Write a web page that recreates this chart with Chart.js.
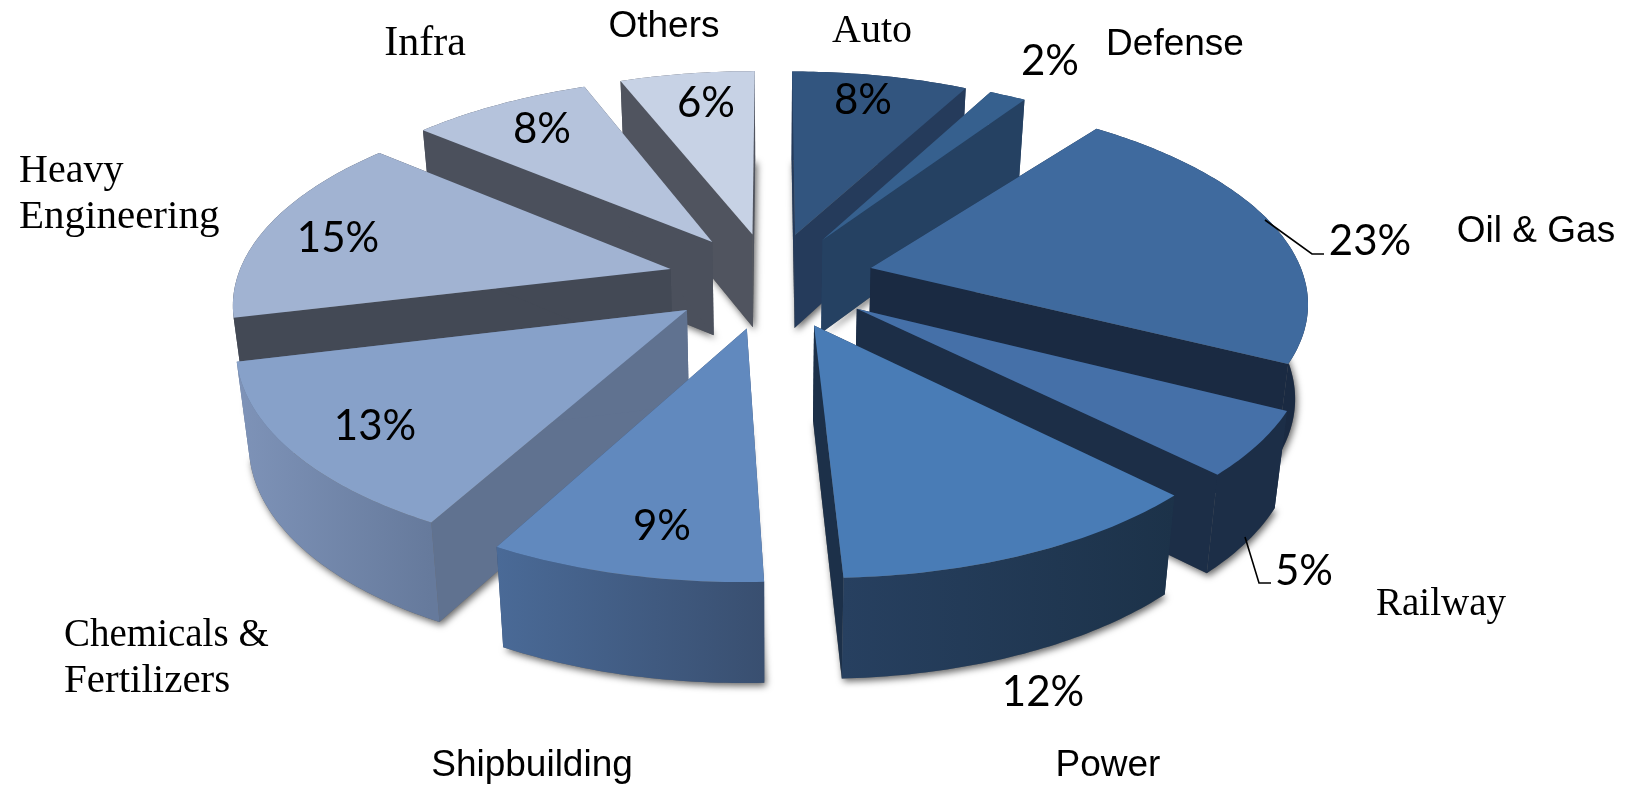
<!DOCTYPE html>
<html>
<head>
<meta charset="utf-8">
<title>Sector share</title>
<script src="https://cdn.jsdelivr.net/npm/chart.js@4"></script>
<style>
    html, body { margin: 0; padding: 0; background: #fff; }
    canvas { display: block; }
</style>
</head>
<body>
<canvas id="sectorChart" width="1627" height="793"></canvas>
<script>
    // ============================================
    // DATA
    // ============================================
    const categories = ['Auto', 'Defense', 'Oil & Gas', 'Railway', 'Power', 'Shipbuilding',
        'Chemicals & Fertilizers', 'Heavy Engineering', 'Infra', 'Others'];
    // the printed labels are these rounded
    const shares = [7.7, 1.6, 23.2, 5.0, 11.8, 8.5, 13.3, 15.0, 7.9, 5.9];

    // ============================================
    // COLOURS
    // ============================================
    const topColors = ['#32557F', '#36608E', '#3F6A9E', '#4570A8', '#497CB6',
        '#6189BE', '#87A1C9', '#A1B3D2', '#B5C3DC', '#C7D2E5'];
    const wallColors = ['#253B5B', '#254162', '#1A2A42', '#1C2E47', '#1C3049',
        '#3A5072', '#607290', '#434955', '#4B505C', '#50545F'];
    const rimLeft = ['#253B5B', '#254162', '#1A2A42', '#1C2E47', '#274060',
        '#4A6A97', '#7E93B8', '#434955', '#4B505C', '#50545F'];
    const rimRight = ['#253B5B', '#254162', '#1A2A42', '#1C2E47', '#1C3249',
        '#394F70', '#667A9C', '#434955', '#4B505C', '#50545F'];

    // ============================================
    // 3D LOOK (camera and explode distance)
    // ============================================
    const explode = 104;
    const depth = 94;
    const tilt = 0.461;
    const perspective = 0.000342;
    const bottomShrink = 0.976;
    // the Oil & Gas cut face sits a little past its neighbour in the picture
    const startTrim = [0, 0, 0.075, 0, 0, 0, 0, 0, 0, 0];

    // tilted ground plane -> screen
    function project(arc, wx, wv, down) {
        const s = 1 / (1 + perspective * wv);
        const shrink = down ? bottomShrink : 1;
        return {
            x: arc.x + wx * s * shrink,
            y: arc.y - tilt * wv * s + (down ? depth * Math.pow(s, 0.35) : 0)
        };
    }

    function sliceGeometry(arc, i) {
        // chart.js angles start at -90deg, here 0 = straight up
        const a1 = arc.startAngle + Math.PI / 2;
        const a2 = arc.endAngle + Math.PI / 2;
        const mid = (a1 + a2) / 2;
        const ox = Math.sin(mid) * explode;
        const ov = Math.cos(mid) * explode;
        const from = a1 + startTrim[i];
        const angles = [];
        const steps = Math.max(2, Math.ceil((a2 - from) / 0.015));
        for (let k = 0; k <= steps; k++) {
            angles.push(from + (a2 - from) * k / steps);
        }
        const rim = angles.map(a => [ox + Math.sin(a) * arc.outerRadius, ov + Math.cos(a) * arc.outerRadius]);
        return { apex: [ox, ov], rim: rim, ov: ov };
    }

    function fillPoly(ctx, pts, fill) {
        ctx.beginPath();
        pts.forEach((p, i) => i ? ctx.lineTo(p.x, p.y) : ctx.moveTo(p.x, p.y));
        ctx.closePath();
        ctx.fillStyle = fill;
        ctx.fill();
    }

    const pie3d = {
        id: 'pie3d',
        beforeDatasetDraw(chart) {
            const ctx = chart.ctx;
            const arcs = chart.getDatasetMeta(0).data;
            const slices = arcs.map((arc, i) => ({ arc, i, geo: sliceGeometry(arc, i) }));
            slices.sort((a, b) => b.geo.ov - a.geo.ov);

            // soft shadow under every slice
            ctx.save();
            ctx.shadowColor = 'rgba(0,0,0,0.6)';
            ctx.shadowBlur = 7;
            ctx.shadowOffsetX = 2;
            ctx.shadowOffsetY = 3;
            slices.forEach(({ arc, geo }) => {
                const plate = [geo.apex].concat(geo.rim).map(p => project(arc, p[0], p[1], true));
                fillPoly(ctx, plate, '#666');
            });
            ctx.restore();

            slices.forEach(({ arc, i, geo }) => {
                const at = p => project(arc, p[0], p[1], false);
                const below = p => project(arc, p[0], p[1], true);
                const first = geo.rim[0];
                const last = geo.rim[geo.rim.length - 1];

                // flat cut faces
                [first, last].forEach(edge => {
                    fillPoly(ctx, [at(geo.apex), at(edge), below(edge), below(geo.apex)], wallColors[i]);
                });

                // curved outer face
                const upper = geo.rim.map(at);
                const lower = geo.rim.map(below).reverse();
                const xs = upper.map(p => p.x);
                const grad = ctx.createLinearGradient(Math.min(...xs), 0, Math.max(...xs), 0);
                grad.addColorStop(0, rimLeft[i]);
                grad.addColorStop(1, rimRight[i]);
                fillPoly(ctx, upper.concat(lower), grad);

                // top face
                fillPoly(ctx, [at(geo.apex)].concat(upper), arc.options.backgroundColor);
            });
            return false;
        }
    };

    // ============================================
    // TEXT
    // ============================================
    const sansFont = '37px "Liberation Sans"';
    const serifFont = '39px "Liberation Serif"';
    const pctFont = '42px Lato';

    const categoryText = [
        { text: 'Auto', x: 872, y: 31, font: '40px "Liberation Serif"', align: 'center' },
        { text: 'Defense', x: 1175, y: 45, font: sansFont, align: 'center' },
        { text: 'Oil & Gas', x: 1536, y: 232, font: sansFont, align: 'center' },
        { text: 'Railway', x: 1441, y: 605, font: serifFont, align: 'center' },
        { text: 'Power', x: 1108, y: 766, font: sansFont, align: 'center' },
        { text: 'Shipbuilding', x: 532, y: 766, font: sansFont, align: 'center' },
        { text: 'Chemicals &', x: 64, y: 636, font: serifFont, align: 'left' },
        { text: 'Fertilizers', x: 64, y: 681, font: '41px "Liberation Serif"', align: 'left' },
        { text: 'Heavy', x: 19, y: 171, font: '40px "Liberation Serif"', align: 'left' },
        { text: 'Engineering', x: 19, y: 217, font: '41px "Liberation Serif"', align: 'left' },
        { text: 'Infra', x: 425, y: 44, font: '42px "Liberation Serif"', align: 'center' },
        { text: 'Others', x: 664, y: 27, font: sansFont, align: 'center' }
    ];
    const pctSpots = [[863, 100], [1050, 61], [1370, 241], [1304, 571], [1043, 692],
        [662, 526], [375, 426], [338, 238], [542, 129], [706, 103]];
    const leaders = [
        [[1265, 220], [1312, 254], [1324, 254]],
        [[1245, 537], [1259, 583], [1271, 583]]
    ];

    const labels3d = {
        id: 'labels3d',
        afterDatasetsDraw(chart) {
            const ctx = chart.ctx;
            ctx.save();
            ctx.fillStyle = '#000';
            ctx.textBaseline = 'middle';
            categoryText.forEach(t => {
                ctx.font = t.font;
                ctx.textAlign = t.align;
                ctx.fillText(t.text, t.x, t.y);
            });
            ctx.font = pctFont;
            ctx.textAlign = 'center';
            shares.forEach((v, i) => {
                ctx.fillText(Math.round(v) + '%', pctSpots[i][0], pctSpots[i][1]);
            });
            ctx.strokeStyle = '#000';
            ctx.lineWidth = 1.6;
            leaders.forEach(line => {
                ctx.beginPath();
                line.forEach((p, i) => i ? ctx.lineTo(p[0], p[1]) : ctx.moveTo(p[0], p[1]));
                ctx.stroke();
            });
            ctx.restore();
        }
    };

    // ============================================
    // CHART
    // ============================================
    new Chart(document.getElementById('sectorChart'), {
        type: 'pie',
        data: {
            labels: categories,
            datasets: [{
                data: shares,
                backgroundColor: topColors,
                borderWidth: 0
            }]
        },
        options: {
            responsive: false,
            animation: false,
            radius: 434,
            layout: { padding: { right: 85, bottom: 233 } },
            plugins: {
                legend: { display: false },
                tooltip: { enabled: false }
            }
        },
        plugins: [pie3d, labels3d]
    });
</script>
</body>
</html>
